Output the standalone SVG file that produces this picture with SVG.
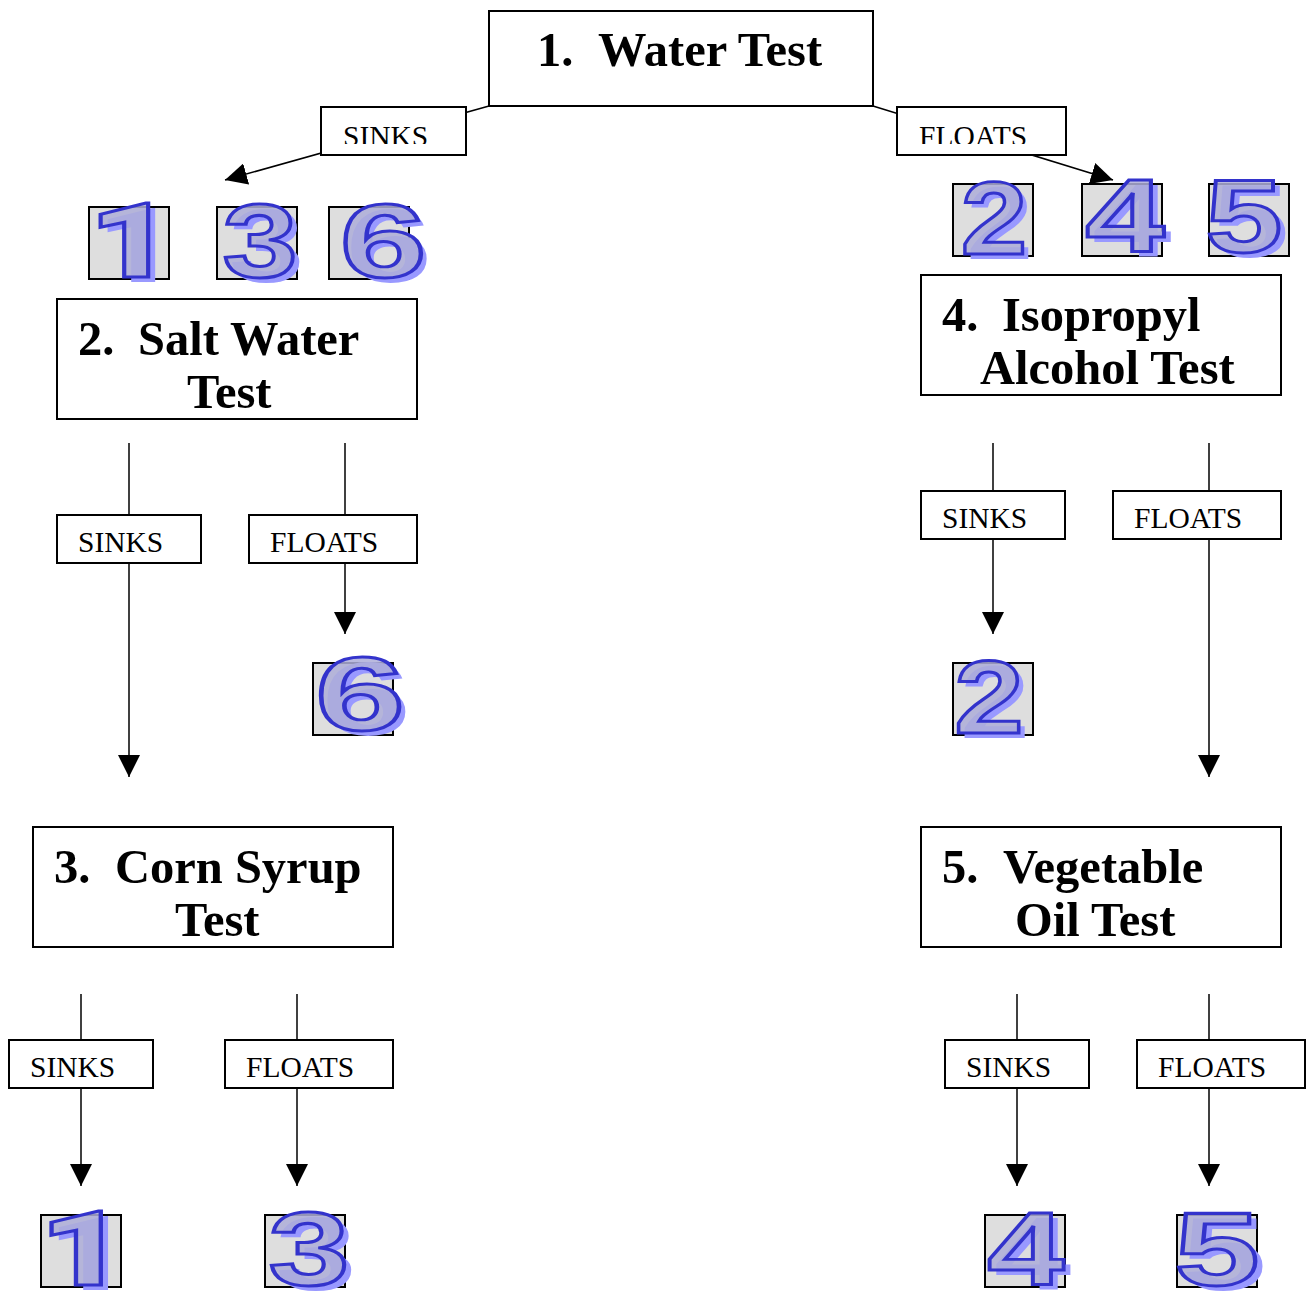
<svg xmlns="http://www.w3.org/2000/svg" width="1312" height="1294" viewBox="0 0 1312 1294">
<defs>
<style>
.box{fill:#fff;stroke:#000;stroke-width:2}
.nt{font-family:"Liberation Serif","Times New Roman",serif;font-weight:bold;font-size:48.5px;fill:#000}
.lb{fill:#fff;stroke:#000;stroke-width:2}
.lt{font-family:"Liberation Serif","Times New Roman",serif;font-size:29.5px;fill:#000}
.cn line{stroke:#000;stroke-width:1.5;fill:none;marker-end:url(#ah)}
.nb{fill:#dedede;stroke:#000;stroke-width:2}
.dg{font-family:"Liberation Sans",Arial,sans-serif;font-weight:bold;font-size:104px;text-anchor:middle}
.one{font-family:Roboto,"Open Sans",sans-serif;font-weight:900}
.ds{fill:#9999ff}
.dm{fill:#aeaed8;fill-opacity:0.85;stroke:#3333cc;stroke-width:3}
</style>
<marker id="ah" markerUnits="userSpaceOnUse" markerWidth="22" markerHeight="22" refX="20" refY="10" orient="auto" viewBox="0 0 20 20"><path d="M0,0 L20,10 L0,20 z" fill="#000"/></marker>
<clipPath id="c1"><rect x="321" y="107" width="145" height="37"/></clipPath>
<clipPath id="c2"><rect x="897" y="107" width="169" height="37"/></clipPath>
</defs>

<g id="connectors" class="cn">
<line x1="489" y1="106" x2="225" y2="180"/>
<line x1="873" y1="106" x2="1113" y2="180"/>
<line x1="129" y1="443" x2="129" y2="777"/>
<line x1="345" y1="443" x2="345" y2="634"/>
<line x1="993" y1="443" x2="993" y2="634"/>
<line x1="1209" y1="443" x2="1209" y2="777"/>
<line x1="81" y1="994" x2="81" y2="1186"/>
<line x1="297" y1="994" x2="297" y2="1186"/>
<line x1="1017" y1="994" x2="1017" y2="1186"/>
<line x1="1209" y1="994" x2="1209" y2="1186"/>
</g>

<g id="labels">
<g><rect class="lb" x="321" y="107" width="145" height="48"/><text class="lt" x="343" y="146" clip-path="url(#c1)">SINKS</text></g>
<g><rect class="lb" x="897" y="107" width="169" height="48"/><text class="lt" x="919" y="146" clip-path="url(#c2)">FLOATS</text></g>
<g><rect class="lb" x="57" y="515" width="144" height="48"/><text class="lt" x="78" y="552">SINKS</text></g>
<g><rect class="lb" x="249" y="515" width="168" height="48"/><text class="lt" x="270" y="552">FLOATS</text></g>
<g><rect class="lb" x="921" y="491" width="144" height="48"/><text class="lt" x="942" y="528">SINKS</text></g>
<g><rect class="lb" x="1113" y="491" width="168" height="48"/><text class="lt" x="1134" y="528">FLOATS</text></g>
<g><rect class="lb" x="9" y="1040" width="144" height="48"/><text class="lt" x="30" y="1077">SINKS</text></g>
<g><rect class="lb" x="225" y="1040" width="168" height="48"/><text class="lt" x="246" y="1077">FLOATS</text></g>
<g><rect class="lb" x="945" y="1040" width="144" height="48"/><text class="lt" x="966" y="1077">SINKS</text></g>
<g><rect class="lb" x="1137" y="1040" width="168" height="48"/><text class="lt" x="1158" y="1077">FLOATS</text></g>
</g>

<g id="n1"><rect class="box" x="489" y="11" width="384" height="95"/><text class="nt" y="66"><tspan x="537">1.</tspan><tspan x="598">Water Test</tspan></text></g>
<g id="n2"><rect class="box" x="57" y="299" width="360" height="120"/><text class="nt" y="355"><tspan x="78">2.</tspan><tspan x="138">Salt Water</tspan></text><text class="nt" x="187" y="408">Test</text></g>
<g id="n4"><rect class="box" x="921" y="275" width="360" height="120"/><text class="nt" y="331"><tspan x="942">4.</tspan><tspan x="1002">Isopropyl</tspan></text><text class="nt" x="980" y="384">Alcohol Test</text></g>
<g id="n3"><rect class="box" x="33" y="827" width="360" height="120"/><text class="nt" y="883"><tspan x="54">3.</tspan><tspan x="115">Corn Syrup</tspan></text><text class="nt" x="175" y="936">Test</text></g>
<g id="n5"><rect class="box" x="921" y="827" width="360" height="120"/><text class="nt" y="883"><tspan x="942">5.</tspan><tspan x="1003">Vegetable</tspan></text><text class="nt" x="1015" y="936">Oil Test</text></g>

<g id="d1a"><rect class="nb" x="89" y="207" width="80" height="72"/><g class="dg one" transform="translate(131,277) scale(1.4,1)"><text class="ds" x="5" y="5">1</text><text class="dm">1</text></g></g>
<g id="d3a"><rect class="nb" x="217" y="207" width="80" height="72"/><g class="dg" transform="translate(260,277) scale(1.3,1)"><text class="ds" x="5" y="5">3</text><text class="dm">3</text></g></g>
<g id="d6a"><rect class="nb" x="329" y="207" width="80" height="72"/><g class="dg" transform="translate(383,277) scale(1.5,1)"><text class="ds" x="4" y="5">6</text><text class="dm">6</text></g></g>
<g id="d2a"><rect class="nb" x="953" y="184" width="80" height="72"/><g class="dg" transform="translate(994,254) scale(1.15,1)"><text class="ds" x="5" y="5">2</text><text class="dm">2</text></g></g>
<g id="d4a"><rect class="nb" x="1082" y="184" width="80" height="72"/><g class="dg" transform="translate(1125,252) scale(1.37,1)"><text class="ds" x="5" y="5">4</text><text class="dm">4</text></g></g>
<g id="d5a"><rect class="nb" x="1209" y="184" width="80" height="72"/><g class="dg" transform="translate(1244,252) scale(1.33,1)"><text class="ds" x="5" y="5">5</text><text class="dm">5</text></g></g>
<g id="d6b"><rect class="nb" x="313" y="663" width="80" height="72"/><g class="dg" transform="translate(360,730) scale(1.55,1)"><text class="ds" x="4" y="5">6</text><text class="dm">6</text></g></g>
<g id="d2b"><rect class="nb" x="953" y="663" width="80" height="72"/><g class="dg" transform="translate(989,733) scale(1.2,1)"><text class="ds" x="5" y="5">2</text><text class="dm">2</text></g></g>
<g id="d1b"><rect class="nb" x="41" y="1215" width="80" height="72"/><g class="dg one" transform="translate(83,1285) scale(1.45,1)"><text class="ds" x="5" y="5">1</text><text class="dm">1</text></g></g>
<g id="d3b"><rect class="nb" x="265" y="1215" width="80" height="72"/><g class="dg" transform="translate(309,1285) scale(1.4,1)"><text class="ds" x="5" y="5">3</text><text class="dm">3</text></g></g>
<g id="d4b"><rect class="nb" x="985" y="1215" width="80" height="72"/><g class="dg" transform="translate(1026,1285) scale(1.33,1)"><text class="ds" x="5" y="5">4</text><text class="dm">4</text></g></g>
<g id="d5b"><rect class="nb" x="1177" y="1215" width="80" height="72"/><g class="dg" transform="translate(1217,1285) scale(1.47,1)"><text class="ds" x="5" y="5">5</text><text class="dm">5</text></g></g>
</svg>
